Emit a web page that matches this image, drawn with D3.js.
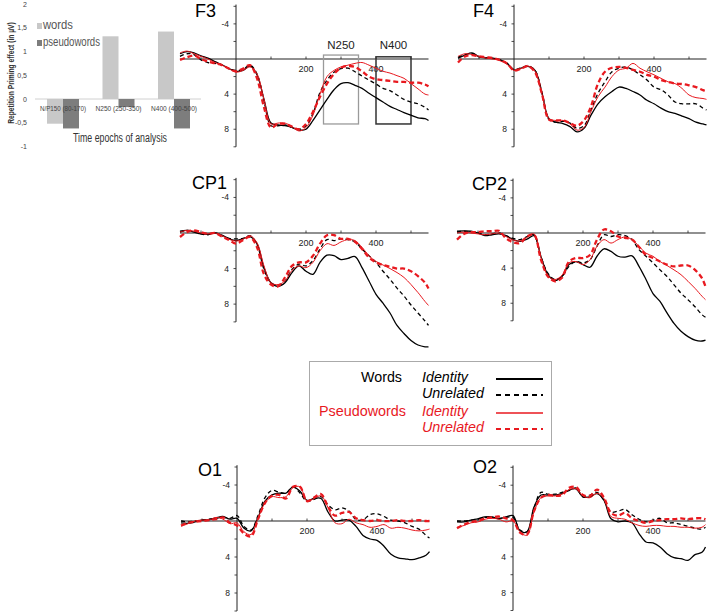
<!DOCTYPE html>
<html><head><meta charset="utf-8">
<script src="https://cdn.jsdelivr.net/npm/d3@7"></script>
<style>body{margin:0;background:#fff}svg{display:block}</style>
</head><body>
<svg id="c" width="709" height="612"></svg>
<script>
// ---------- bar chart data ----------
const epochs = ["N/P150 (80-170)", "N250 (250-350)", "N400 (400-500)"];
const wordsEffect = [-0.52, 1.32, 1.42];
const pseudoEffect = [-0.62, -0.17, -0.62];
const barTicks = [2, 1.5, 1, 0.5, 0, -0.5, -1];
const barTickLabels = ["2", "1,5", "1", "0,5", "0", "-0,5", "-1"];

// ---------- ERP data (ms, µV; positive plotted downward) ----------
const times = [-160,-140,-120,-100,-80,-60,-40,-20,0,20,40,60,80,100,120,140,160,180,200,220,240,260,280,300,320,340,360,380,400,420,440,460,480,500,520,540,550];
const xTickLabels = [200, 400];
const yTickLabels = [-4, 4, 8];

const F3_wi = [-0.6,-0.85,-0.7,-0.35,-0.1,0.3,0.65,1.1,1.4,1.3,0.8,1.8,4.6,7.3,7.5,7.6,7.8,8.1,8.0,7.0,5.8,4.6,3.5,2.8,2.7,3.0,3.35,3.9,4.4,4.9,5.4,5.75,6.1,6.4,6.7,6.8,7.0];
const F3_wu = [-0.3,-0.6,-0.5,0.1,0.4,0.5,0.7,1.1,1.3,1.2,0.7,1.7,4.8,7.6,7.6,7.5,7.8,8.0,7.6,6.2,3.8,2.4,1.5,1.1,1.05,1.45,1.95,2.4,2.85,3.35,3.6,4.1,4.6,4.9,5.1,5.5,5.8];
const F3_pi = [-0.7,-0.9,-0.6,-0.3,0.0,0.4,0.7,1.1,1.5,1.3,0.9,1.7,4.6,7.4,7.3,7.3,7.7,8.2,7.8,6.4,4.0,2.0,1.3,0.9,0.7,0.5,0.4,0.7,1.05,1.4,1.6,1.9,2.2,2.8,3.4,4.0,4.1];
const F3_pu = [0.1,-0.2,-0.4,0.0,0.3,0.5,0.7,1.1,1.4,1.1,0.7,2.2,5.5,7.8,7.4,7.4,7.7,8.0,7.4,6.0,4.3,2.8,1.7,1.0,0.8,0.9,1.4,2.0,2.3,2.4,2.5,2.6,2.6,2.7,2.7,2.9,3.1];

const F4_wi = [-0.1,-0.45,-0.7,-0.25,-0.15,-0.1,0.1,0.5,1.25,1.05,0.85,1.3,3.9,6.8,7.2,7.35,7.7,8.3,7.9,6.4,5.1,4.3,3.7,3.2,3.35,3.7,4.1,4.7,5.1,5.6,6.0,6.2,6.5,6.8,7.2,7.4,7.5];
const F4_wu = [-0.2,-0.5,-0.6,-0.3,-0.1,-0.05,0.1,0.5,1.2,1.0,0.8,1.3,3.8,6.9,7.2,7.1,7.3,7.9,7.6,5.8,3.9,2.6,1.45,1.05,0.9,1.25,1.8,2.4,3.2,3.5,4.1,4.9,5.1,5.1,5.1,5.6,5.8];
const F4_pi = [-0.3,-0.6,-0.5,-0.3,-0.1,0.0,0.2,0.6,1.3,1.1,0.8,1.4,4.0,6.8,7.0,7.0,7.4,8.1,7.8,6.0,4.3,3.2,2.0,1.25,1.05,0.5,1.05,1.45,1.8,2.2,2.6,2.8,3.35,4.1,4.4,4.5,4.6];
const F4_pu = [0.4,-0.3,-0.45,-0.3,-0.2,-0.1,0.1,0.5,1.3,1.1,0.8,1.5,4.0,6.9,7.0,7.0,7.3,7.6,7.0,5.4,2.8,1.45,1.0,0.9,1.0,1.25,1.45,1.8,2.0,2.4,2.6,2.8,2.85,3.0,3.2,3.55,3.7];

const CP1_wi = [-0.2,-0.3,-0.1,0.1,0.15,0.0,0.25,0.65,0.85,0.65,0.4,1.2,3.9,5.6,6.0,5.6,4.45,3.7,4.3,4.65,3.3,2.5,2.55,3.0,2.85,2.65,3.9,5.4,6.9,7.9,9.0,10.4,11.3,12.1,12.6,12.8,12.8];
const CP1_wu = [-0.1,-0.3,-0.2,0.1,0.2,0.0,0.3,0.6,0.65,0.6,0.3,1.3,4.1,5.6,5.9,5.4,4.1,3.5,3.7,3.1,1.8,0.75,0.85,0.65,0.75,1.0,1.8,2.55,3.3,4.3,5.2,6.2,7.1,8.1,9.0,9.9,10.4];
const CP1_pi = [-0.1,-0.3,-0.2,0.0,0.1,0.0,0.3,0.7,0.9,0.7,0.3,1.1,3.7,5.6,5.8,5.4,4.2,3.7,3.9,3.3,2.0,1.2,1.4,1.0,0.75,0.85,1.6,2.55,3.2,3.6,4.0,4.45,5.0,5.8,6.7,7.7,8.15];
const CP1_pu = [0.45,-0.1,-0.3,-0.1,0.1,0.0,0.4,0.8,1.2,0.8,0.45,1.6,4.65,5.8,6.0,5.0,3.7,3.3,3.3,2.55,1.2,0.25,0.25,0.65,0.65,1.0,1.8,2.75,3.3,3.6,3.8,4.0,4.0,4.3,4.85,5.6,6.25];

const CP2_wi = [-0.2,-0.25,-0.2,0.0,0.3,0.2,0.1,0.3,0.75,0.95,0.7,0.3,2.7,4.75,5.4,4.95,3.6,3.25,3.6,3.9,2.65,1.8,2.1,2.65,2.75,2.6,3.8,5.3,6.9,7.8,9.1,10.3,11.2,11.8,12.2,12.3,12.2];
const CP2_wu = [-0.1,-0.2,-0.1,0.0,0.2,0.1,0.0,0.3,0.6,0.75,0.4,0.2,2.7,4.6,5.3,4.95,3.8,3.25,3.4,3.05,1.5,0.2,0.4,0.2,0.3,0.75,1.9,2.65,3.4,4.2,4.95,5.9,6.85,7.6,8.4,9.3,9.6];
const CP2_pi = [0.0,-0.1,0.0,0.1,0.2,0.1,0.0,0.4,0.8,0.9,0.5,0.1,2.8,4.9,5.3,4.8,3.4,3.25,3.6,3.05,1.5,0.75,1.15,0.75,0.45,0.75,1.5,2.3,2.65,3.25,3.7,4.2,4.75,5.5,6.3,7.2,7.6];
const CP2_pu = [0.75,0.1,-0.1,-0.1,-0.2,-0.2,-0.25,0.6,1.05,1.15,0.4,0.2,3.05,4.95,5.5,5.1,3.25,2.85,2.85,2.5,0.75,-0.4,-0.2,0.4,0.55,0.75,1.6,2.5,2.85,3.25,3.6,3.8,3.7,3.7,4.2,5.15,6.1];

const O1_wi = [0.2,0.25,0.1,-0.1,-0.15,-0.35,-0.5,-0.2,-0.3,0.8,1.1,-0.4,-2.2,-2.9,-3.1,-3.1,-3.8,-3.3,-2.3,-2.5,-2.5,-1.0,0.0,-0.1,-0.1,0.6,1.6,2.0,2.15,2.8,3.7,4.1,4.2,4.3,4.1,3.8,3.4];
const O1_wu = [0.0,0.1,0.0,-0.1,-0.2,-0.3,-0.4,-0.3,-0.6,0.6,1.0,-0.6,-2.6,-3.4,-3.2,-3.1,-3.8,-3.1,-2.2,-2.4,-2.7,-1.8,-1.25,-1.45,-1.1,-0.15,-0.15,-0.7,-0.8,-0.5,-0.1,0.0,0.2,0.6,0.9,1.6,1.9];
const O1_pi = [0.6,0.3,0.0,-0.1,-0.1,-0.4,-0.2,0.3,0.2,1.2,1.5,-0.3,-2.0,-2.7,-2.6,-2.7,-3.7,-3.8,-2.2,-2.5,-2.8,-1.5,0.2,0.3,-0.2,0.2,0.4,0.7,0.6,0.4,0.8,0.7,0.8,1.0,1.1,1.0,0.9];
const O1_pu = [0.5,0.2,0.1,0.0,-0.1,-0.2,-0.4,0.2,0.5,1.4,1.7,-0.2,-2.0,-2.8,-2.9,-2.5,-3.8,-3.8,-2.2,-2.6,-3.0,-1.6,-0.6,-0.9,-1.0,-0.3,-0.1,0.0,-0.1,0.0,0.0,-0.1,0.0,0.0,-0.1,0.0,0.0];

const O2_wi = [0.1,0.1,-0.1,-0.25,-0.45,-0.45,-0.25,-0.45,-0.6,1.1,1.2,-1.55,-2.9,-2.9,-2.9,-3.05,-3.45,-3.6,-2.7,-2.7,-3.05,-2.3,-0.25,0.1,0.0,0.2,1.4,2.35,2.45,2.9,3.65,4.1,4.2,4.4,3.75,3.5,2.9];
const O2_wu = [0.0,0.0,-0.1,-0.2,-0.4,-0.4,-0.3,-0.4,-0.4,1.0,1.2,-1.4,-3.2,-3.0,-3.0,-3.2,-3.4,-3.7,-2.7,-2.9,-3.2,-2.3,-1.0,-1.1,-1.3,-0.7,-0.2,0.1,-0.1,-0.3,0.2,0.2,0.4,0.6,0.8,0.9,0.7];
const O2_pi = [0.7,0.5,0.2,0.1,-0.2,-0.3,-0.2,0.1,0.0,1.2,1.6,-1.0,-2.6,-2.8,-2.8,-3.0,-3.5,-3.6,-2.8,-2.6,-3.1,-2.5,-0.5,-0.3,-0.2,0.2,0.5,0.6,0.5,0.5,0.6,0.6,0.7,0.7,0.8,0.7,0.4];
const O2_pu = [0.8,0.4,0.1,0.0,-0.3,-0.4,-0.5,-0.3,-0.1,1.3,1.5,-1.1,-2.6,-2.9,-2.8,-2.9,-3.7,-3.8,-2.9,-2.8,-3.5,-2.6,-0.9,-0.6,-0.9,-0.3,0.0,0.2,0.0,-0.1,-0.2,-0.2,-0.3,-0.2,-0.3,-0.3,-0.2];

const windows = [{label: "N250", t0: 250, t1: 350}, {label: "N400", t0: 400, t1: 500}];

// ---------- styling / layout ----------
const RED = "#e8191f";
const FONT = "'Liberation Sans', Arial, Helvetica, sans-serif";
const conds = [
  {key: "wi", color: "#000", width: 1.3, dash: null},
  {key: "wu", color: "#000", width: 1.3, dash: "4,3"},
  {key: "pi", color: RED, width: 1.0, dash: null},
  {key: "pu", color: RED, width: 2.3, dash: "5,3"}
];
const panels = [
  {name: "F3", ax: 236, zy: 59, k: 8.78, tx: 195, ty: 17, data: {wi: F3_wi, wu: F3_wu, pi: F3_pi, pu: F3_pu}, windows: true},
  {name: "F4", ax: 514, zy: 59, k: 8.78, tx: 473, ty: 17, data: {wi: F4_wi, wu: F4_wu, pi: F4_pi, pu: F4_pu}},
  {name: "CP1", ax: 236, zy: 233, k: 8.89, tx: 192, ty: 189, data: {wi: CP1_wi, wu: CP1_wu, pi: CP1_pi, pu: CP1_pu}},
  {name: "CP2", ax: 513, zy: 233, k: 8.78, tx: 472, ty: 190, data: {wi: CP2_wi, wu: CP2_wu, pi: CP2_pi, pu: CP2_pu}},
  {name: "O1", ax: 237, zy: 521, k: 9.0, tx: 198, ty: 476, data: {wi: O1_wi, wu: O1_wu, pi: O1_pi, pu: O1_pu}},
  {name: "O2", ax: 513, zy: 521, k: 8.95, tx: 473, ty: 473, data: {wi: O2_wi, wu: O2_wu, pi: O2_pi, pu: O2_pu}}
];

const svg = d3.select("#c");

// ---------- bar chart ----------
(function barChart() {
  const g = svg.append("g");
  const y = d3.scaleLinear().domain([-1, 2]).range([146.5, 4]);
  const x = d3.scalePoint().domain(epochs).range([63, 174]);
  const bw = 16;
  g.append("line").attr("x1", 35).attr("x2", 201).attr("y1", y(0)).attr("y2", y(0))
    .attr("stroke", "#d0d0d0").attr("stroke-width", 1);
  g.selectAll(".tl").data(barTicks).join("text")
    .attr("x", 27).attr("y", d => y(d) + 2.5).attr("text-anchor", "end")
    .attr("font-size", 7).attr("font-family", FONT).attr("fill", "#444")
    .text((d, i) => barTickLabels[i]);
  g.selectAll(".bw").data(wordsEffect).join("rect")
    .attr("x", (d, i) => x(epochs[i]) - bw).attr("width", bw)
    .attr("y", d => Math.min(y(d), y(0))).attr("height", d => Math.abs(y(d) - y(0)))
    .attr("fill", "#c8c8c8");
  g.selectAll(".bp").data(pseudoEffect).join("rect")
    .attr("x", (d, i) => x(epochs[i])).attr("width", bw)
    .attr("y", d => Math.min(y(d), y(0))).attr("height", d => Math.abs(y(d) - y(0)))
    .attr("fill", "#7d7d7d");
  g.selectAll(".cl").data(epochs).join("text")
    .attr("x", d => x(d)).attr("y", 110.5).attr("text-anchor", "middle")
    .attr("font-size", 6.5).attr("font-family", FONT).attr("fill", "#444")
    .attr("textLength", 46).attr("lengthAdjust", "spacingAndGlyphs")
    .text(d => d);
  // legend
  g.append("rect").attr("x", 37).attr("y", 23).attr("width", 5).attr("height", 6).attr("fill", "#c8c8c8");
  g.append("rect").attr("x", 37).attr("y", 40).attr("width", 5).attr("height", 6).attr("fill", "#7d7d7d");
  g.append("text").attr("x", 43).attr("y", 28.5).attr("font-size", 12).attr("font-family", FONT)
    .attr("fill", "#555").attr("textLength", 30).attr("lengthAdjust", "spacingAndGlyphs").text("words");
  g.append("text").attr("x", 43).attr("y", 46).attr("font-size", 12).attr("font-family", FONT)
    .attr("fill", "#555").attr("textLength", 57).attr("lengthAdjust", "spacingAndGlyphs").text("pseudowords");
  // rotated, horizontally condensed axis title (condensing via transform so its box is exact)
  g.append("text").attr("transform", "translate(13.5,73) rotate(-90) scale(0.705,1)").attr("text-anchor", "middle")
    .attr("font-size", 9.5).attr("font-weight", "bold").attr("font-family", FONT).attr("fill", "#333")
    .text("Repetition Priming effect (in µV)");
  g.append("text").attr("x", 73).attr("y", 142).attr("font-size", 12).attr("font-family", FONT)
    .attr("fill", "#333").attr("textLength", 94).attr("lengthAdjust", "spacingAndGlyphs")
    .text("Time epochs of analysis");
})();

// ---------- ERP panels ----------
panels.forEach(p => {
  const g = svg.append("g");
  const x = d3.scaleLinear().domain([0, 200]).range([p.ax, p.ax + 70]);
  const y = d3.scaleLinear().domain([0, 4]).range([p.zy, p.zy + 4 * p.k]);
  const t0 = times[0], t1 = times[times.length - 1];

  // zero line (x axis)
  g.append("line").attr("x1", x(t0)).attr("x2", x(t1)).attr("y1", y(0)).attr("y2", y(0))
    .attr("stroke", "#222").attr("stroke-width", 1.2);
  g.selectAll(".xt").data([-100, 100, 200, 300, 400, 500]).join("line")
    .attr("x1", d => x(d)).attr("x2", d => x(d)).attr("y1", y(0)).attr("y2", y(0) - 2.5)
    .attr("stroke", "#222").attr("stroke-width", 0.8);
  g.selectAll(".xl").data(xTickLabels).join("text")
    .attr("x", d => x(d)).attr("y", y(0) + 13).attr("text-anchor", "middle")
    .attr("font-size", 9).attr("font-family", FONT).attr("fill", "#222").text(d => d);

  // y axis
  g.append("line").attr("x1", p.ax).attr("x2", p.ax).attr("y1", y(-6.2)).attr("y2", y(10))
    .attr("stroke", "#222").attr("stroke-width", 1);
  g.selectAll(".yt").data([-6, -4, -2, 2, 4, 6, 8, 10]).join("line")
    .attr("x1", p.ax - 2.5).attr("x2", p.ax).attr("y1", d => y(d)).attr("y2", d => y(d))
    .attr("stroke", "#222").attr("stroke-width", 0.8);
  g.selectAll(".yl").data(yTickLabels).join("text")
    .attr("x", p.ax - 7).attr("y", d => y(d) + 3).attr("text-anchor", "end")
    .attr("font-size", 8.5).attr("font-family", FONT).attr("fill", "#222").text(d => d);

  // title
  g.append("text").attr("x", p.tx).attr("y", p.ty).attr("font-size", 18)
    .attr("font-family", FONT).attr("fill", "#000").text(p.name);

  // analysis windows
  if (p.windows) {
    windows.forEach((w, i) => {
      g.append("rect").attr("x", x(w.t0)).attr("y", y(i === 0 ? -0.45 : -0.25))
        .attr("width", x(w.t1) - x(w.t0)).attr("height", y(7.4) - y(i === 0 ? -0.45 : -0.25))
        .attr("fill", "none").attr("stroke", i === 0 ? "#9a9a9a" : "#333")
        .attr("stroke-width", i === 0 ? 1.3 : 1.5);
      g.append("text").attr("x", (x(w.t0) + x(w.t1)) / 2).attr("y", y(-1.15))
        .attr("text-anchor", "middle").attr("font-size", 11.5).attr("font-family", FONT)
        .attr("fill", "#222").text(w.label);
    });
  }

  // waveforms
  const line = d3.line().x((d, i) => x(times[i])).y(d => y(d)).curve(d3.curveCatmullRom.alpha(0.5));
  conds.forEach(c => {
    g.append("path").attr("d", line(p.data[c.key])).attr("fill", "none")
      .attr("stroke", c.color).attr("stroke-width", c.width)
      .attr("stroke-dasharray", c.dash).attr("stroke-linejoin", "round");
  });
});

// ---------- legend ----------
(function legend() {
  const g = svg.append("g");
  g.append("rect").attr("x", 309.5).attr("y", 361.5).attr("width", 242).attr("height", 84)
    .attr("fill", "#fff").attr("stroke", "#aaa").attr("stroke-width", 1);
  const rows = [
    {group: "Words", gx: 361, gw: 41, cond: "Identity", cw: 46, y: 382, color: "#000", c: conds[0]},
    {group: null, cond: "Unrelated", cw: 62, y: 398, color: "#000", c: conds[1]},
    {group: "Pseudowords", gx: 319, gw: 87, cond: "Identity", cw: 46, y: 416, color: RED, c: conds[2]},
    {group: null, cond: "Unrelated", cw: 62, y: 432, color: RED, c: conds[3]}
  ];
  rows.forEach(r => {
    if (r.group) g.append("text").attr("x", r.gx).attr("y", r.y).attr("font-size", 14)
      .attr("font-family", FONT).attr("fill", r.color)
      .attr("textLength", r.gw).attr("lengthAdjust", "spacingAndGlyphs").text(r.group);
    g.append("text").attr("x", 422).attr("y", r.y).attr("font-size", 14).attr("font-style", "italic")
      .attr("font-family", FONT).attr("fill", r.color)
      .attr("textLength", r.cw).attr("lengthAdjust", "spacingAndGlyphs").text(r.cond);
    g.append("line").attr("x1", 496).attr("x2", 543).attr("y1", r.y - 3).attr("y2", r.y - 3)
      .attr("stroke", r.c.color).attr("stroke-width", r.c.key === "pi" ? 1.5 : 2)
      .attr("stroke-dasharray", r.c.dash ? "5,4" : null);
  });
})();
</script>
</body></html>
